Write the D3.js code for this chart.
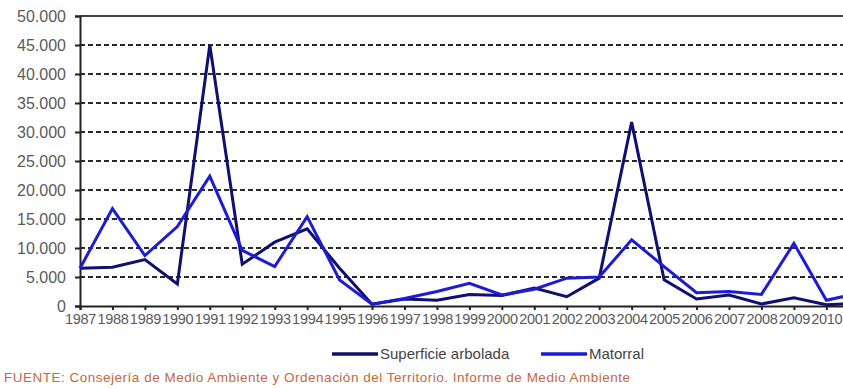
<!DOCTYPE html>
<html>
<head>
<meta charset="utf-8">
<script src="https://cdn.jsdelivr.net/npm/d3@7"></script>
<style>
  html, body { margin: 0; padding: 0; background: #fff; }
  svg { display: block; font-family: "Liberation Sans", Arial, sans-serif; }
</style>
</head>
<body>
<svg id="chart" width="843" height="388"></svg>
<script>
const years = ["1987","1988","1989","1990","1991","1992","1993","1994","1995","1996","1997","1998","1999","2000","2001","2002","2003","2004","2005","2006","2007","2008","2009","2010","2011"];
const superficieArbolada = [6500, 6700, 8000, 3800, 45000, 7200, 11000, 13300, 6500, 300, 1200, 1000, 2000, 1800, 3100, 1600, 4800, 31700, 4500, 1200, 1900, 350, 1400, 200, 500];
const matorral = [6500, 16800, 8700, 13700, 22400, 9600, 6800, 15400, 4500, 300, 1300, 2500, 3900, 1900, 2900, 4800, 5000, 11400, 6800, 2300, 2500, 2000, 10800, 1000, 2200];
const yTicks = [0, 5000, 10000, 15000, 20000, 25000, 30000, 35000, 40000, 45000, 50000];
const seriesNames = ["Superficie arbolada", "Matorral"];
const seriesColors = ["#10106e", "#1c1cd4"];
const sourceText = "FUENTE: Consejería de Medio Ambiente y Ordenación del Territorio. Informe de Medio Ambiente";

(function () {
const svg = d3.select("#chart");
const mLeft = 80, mTop = 16, mBottom = 306, step = 32.45;
const mRight = mLeft + step * (years.length - 1);

const x = d3.scalePoint().domain(years).range([mLeft, mRight]);
const y = d3.scaleLinear().domain([0, 50000]).range([mBottom, mTop]);

const fmt = v => d3.format(",")(v).replace(/,/g, ".");

// gridlines
svg.append("g").selectAll("line")
  .data(yTicks.filter(t => t > 0 && t < 50000))
  .join("line")
  .attr("x1", mLeft).attr("x2", 843)
  .attr("y1", d => y(d)).attr("y2", d => y(d))
  .attr("stroke", "#2a2a2a").attr("stroke-width", 2.2)
  .attr("stroke-dasharray", "5,3");

// top border
svg.append("line").attr("x1", mLeft).attr("x2", 843)
  .attr("y1", y(50000)).attr("y2", y(50000))
  .attr("stroke", "#444").attr("stroke-width", 2);

// y axis
const yAxis = d3.axisLeft(y).tickValues(yTicks).tickFormat(fmt).tickSize(5).tickPadding(6);
const gy = svg.append("g").attr("transform", `translate(${mLeft},0)`).call(yAxis);
gy.select(".domain").attr("stroke", "#222").attr("stroke-width", 2);
gy.selectAll(".tick line").attr("stroke", "#222").attr("stroke-width", 2);
gy.selectAll("text").attr("fill", "#5a5a5a").attr("font-size", "16px").attr("dx", "-3");

// x axis (last category lies beyond the visible edge)
const xAxis = d3.axisBottom(x).tickValues(years.slice(0, -1)).tickSize(4).tickPadding(4);
const gx = svg.append("g").attr("transform", `translate(0,${mBottom})`).call(xAxis);
gx.select(".domain").attr("stroke", "#222").attr("stroke-width", 2);
gx.selectAll(".tick line").attr("stroke", "#222").attr("stroke-width", 2);
gx.selectAll("text").attr("fill", "#5a5a5a").attr("font-size", "14.5px").attr("letter-spacing", "-0.3px");

// lines
const line = d3.line().x((d, i) => x(years[i])).y(d => y(d));
[superficieArbolada, matorral].forEach((data, k) => {
  svg.append("path").datum(data)
    .attr("fill", "none")
    .attr("stroke", seriesColors[k])
    .attr("stroke-width", 3)
    .attr("stroke-linejoin", "miter")
    .attr("d", line);
});

// legend
const legendItems = [{x: 332, tx: 380}, {x: 541, tx: 589}];
legendItems.forEach((it, k) => {
  svg.append("line").attr("x1", it.x).attr("x2", it.x + 46)
    .attr("y1", 354).attr("y2", 354)
    .attr("stroke", seriesColors[k]).attr("stroke-width", 3.5);
  svg.append("text").attr("x", it.tx).attr("y", 359)
    .attr("font-size", "15px").attr("fill", "#444")
    .text(seriesNames[k]);
});

// source
svg.append("text").attr("x", 4).attr("y", 382)
  .attr("font-size", "13.5px").attr("fill", "#c2693f")
  .attr("textLength", 626).attr("lengthAdjust", "spacing")
  .text(sourceText);
})();
</script>
</body>
</html>
